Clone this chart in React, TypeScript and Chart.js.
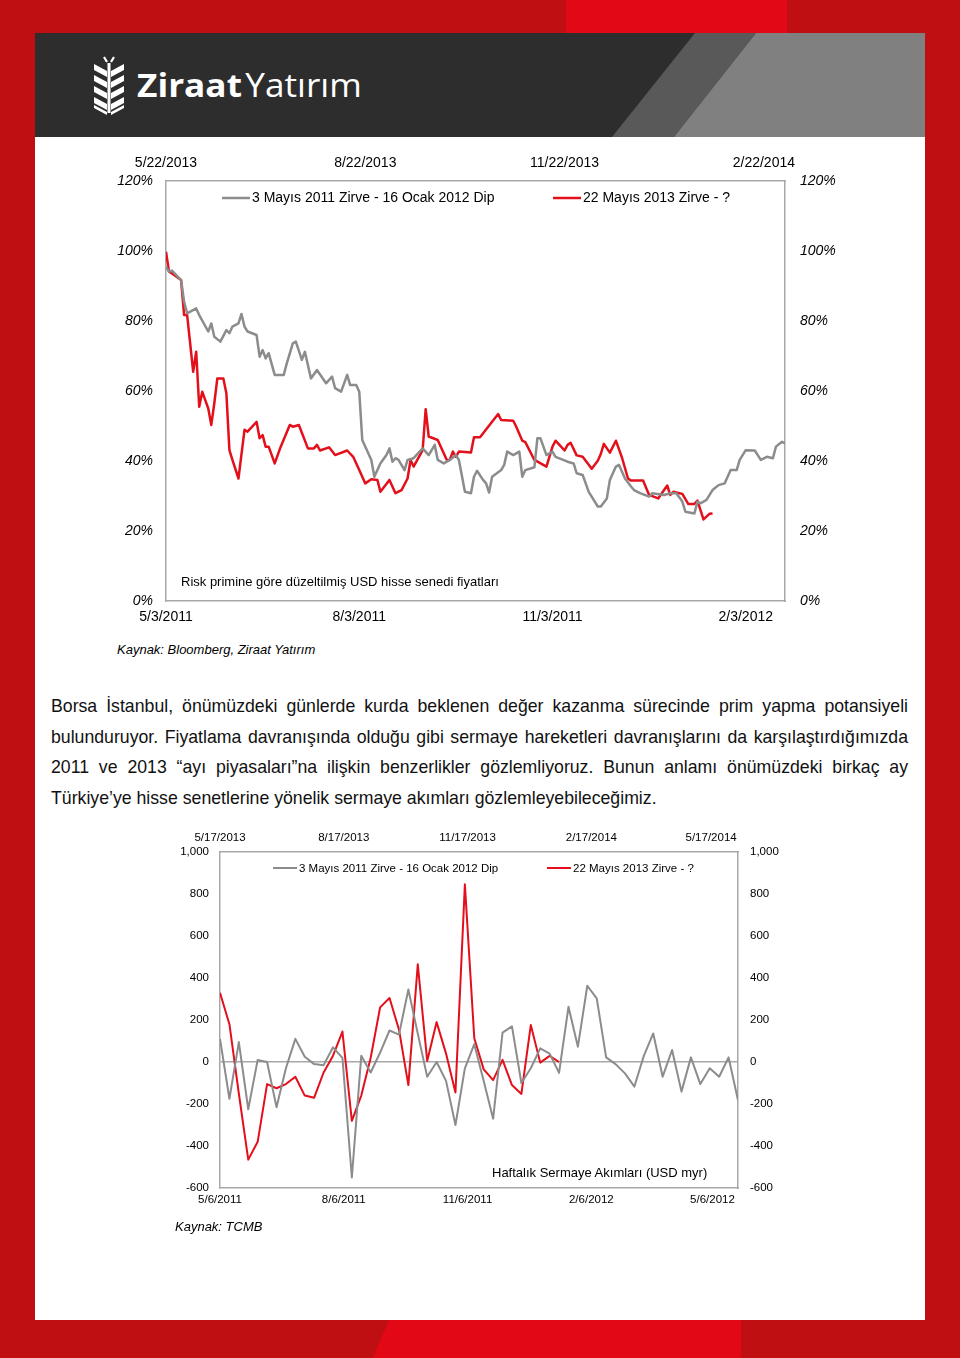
import React, { useEffect, useRef } from 'react';
import { Chart, registerables } from 'chart.js';

Chart.register(...registerables);

const FONT = "'Liberation Sans', Arial, Helvetica, sans-serif";

const seriesLabels = ['3 Mayıs 2011 Zirve - 16 Ocak 2012 Dip', '22 Mayıs 2013 Zirve - ?'];
const grayColor = '#8c8c8c';
const redColor = '#e3101b';
const boxColor = '#a8a8a8';

// ---------- Chart 1: risk-adjusted USD equity prices (trading-day index, % of peak)
const priceGrayDays = [0, 1, 2, 5, 6, 7, 10, 11, 14, 15, 16, 18, 20, 21, 22, 24, 25, 26, 27, 30, 31, 32, 33, 34, 36, 39, 40, 42, 43, 45, 46, 48, 50, 53, 55, 56, 58, 60, 61, 63, 64, 65, 68, 69, 71, 73, 74, 75, 76, 77, 79, 80, 82, 85, 87, 89, 90, 92, 94, 96, 97, 99, 101, 102, 103, 105, 106, 107, 108, 111, 112, 113, 115, 117, 118, 119, 122, 123, 124, 126, 128, 129, 133, 135, 136, 138, 140, 143, 144, 146, 147, 149, 150, 152, 154, 155, 157, 160, 161, 165, 167, 169, 171, 172, 175, 176, 177, 179, 181, 183, 185, 187, 189, 190, 192, 195, 197, 199, 201, 202, 204, 205];
const priceGrayPct = [95.5, 94.1, 94.4, 91.7, 85.5, 82.2, 83.6, 81.7, 77.0, 79.3, 75.5, 74.1, 77.4, 76.5, 78.4, 79.3, 82.0, 78.4, 77.0, 76.0, 69.8, 71.7, 69.3, 70.8, 64.6, 64.6, 67.9, 73.6, 74.1, 68.9, 71.2, 63.6, 66.0, 62.2, 64.1, 60.8, 59.8, 64.6, 61.7, 61.7, 59.8, 46.0, 40.3, 35.5, 39.3, 41.7, 43.6, 39.8, 40.8, 40.3, 37.4, 40.3, 40.8, 43.6, 41.7, 44.6, 40.3, 39.3, 40.3, 41.7, 40.3, 31.2, 30.8, 35.5, 37.2, 34.6, 33.6, 31.0, 35.5, 37.4, 38.9, 42.7, 41.7, 42.7, 35.5, 37.4, 38.2, 46.5, 46.5, 41.7, 42.7, 41.2, 39.8, 39.3, 36.5, 36.0, 31.2, 27.0, 27.0, 29.3, 34.6, 38.4, 38.9, 35.0, 32.7, 31.7, 30.8, 29.8, 30.8, 30.3, 30.8, 30.8, 28.4, 25.5, 25.0, 28.4, 27.9, 28.9, 31.7, 33.1, 33.6, 37.4, 37.4, 40.3, 43.1, 43.0, 40.3, 41.2, 40.8, 44.1, 45.5, 45.0];
const priceRedDays = [0, 1, 2, 5, 6, 7, 8, 9, 10, 11, 12, 13, 14, 15, 16, 17, 19, 20, 21, 22, 24, 26, 27, 30, 31, 32, 33, 34, 36, 38, 41, 42, 44, 47, 49, 50, 51, 54, 56, 60, 62, 64, 66, 68, 70, 71, 74, 76, 78, 80, 81, 82, 85, 86, 87, 90, 91, 93, 94, 95, 96, 97, 101, 102, 104, 106, 110, 111, 115, 116, 118, 119, 122, 126, 128, 129, 130, 132, 133, 134, 136, 138, 141, 143, 144, 145, 147, 149, 151, 153, 154, 158, 160, 163, 166, 167, 168, 170, 171, 173, 175, 176, 178, 180, 181];
const priceRedPct = [99.8, 94.1, 93.6, 91.7, 81.7, 81.7, 73.6, 65.5, 71.2, 55.5, 59.8, 57.4, 55.0, 50.3, 56.5, 63.6, 63.6, 59.3, 43.1, 40.3, 35.0, 48.9, 48.4, 51.2, 46.5, 47.4, 44.1, 44.1, 39.3, 44.1, 50.3, 49.8, 50.3, 43.6, 43.6, 44.6, 43.0, 43.9, 41.7, 43.0, 41.2, 37.4, 33.6, 34.8, 34.6, 31.2, 34.6, 30.8, 31.7, 35.0, 40.3, 38.4, 43.1, 54.8, 47.0, 46.0, 44.1, 40.3, 40.3, 42.7, 41.2, 42.7, 42.4, 46.8, 46.8, 49.0, 53.4, 51.7, 51.5, 49.8, 45.8, 45.4, 40.3, 38.4, 44.1, 45.8, 44.9, 43.0, 44.6, 45.2, 41.6, 41.2, 37.8, 40.1, 42.0, 44.9, 42.4, 45.8, 41.0, 35.0, 34.4, 34.4, 30.3, 29.3, 33.0, 30.3, 31.2, 30.8, 30.6, 27.7, 27.7, 28.7, 23.3, 24.9, 25.0];
const priceBottomTickDays = [0, 64, 128, 192];
const priceBottomTickLabels = ['5/3/2011', '8/3/2011', '11/3/2011', '2/3/2012'];
const priceTopTickDays = [0, 66, 132, 198];
const priceTopTickLabels = ['5/22/2013', '8/22/2013', '11/22/2013', '2/22/2014'];

// ---------- Chart 2: weekly capital flows (USD mn)
const flowGrayWeekly = [110, -175, 95, -225, 10, 0, -215, -30, 110, 25, -10, -15, 70, 20, -550, 30, -50, 45, 150, 130, 345, 135, -70, 0, -90, -300, -30, 85, -90, -270, 140, 170, -100, -30, 65, 40, -52, 263, 73, 363, 303, 22, -10, -54, -117, 29, 136, -70, 57, -141, 22, -105, -30, -70, 22, -182];
const flowRedWeekly = [330, 180, -150, -465, -380, -105, -125, -105, -70, -160, -170, -50, 30, 145, -280, -160, 20, 260, 305, 155, -110, 465, 5, 190, 40, -145, 846, 113, -35, -86, 10, -110, -152, 176, -3, 29, 0];
const flowBottomTickDays = [0, 92, 184, 276, 366];
const flowBottomTickLabels = ['5/6/2011', '8/6/2011', '11/6/2011', '2/6/2012', '5/6/2012'];
const flowTopTickDays = [0, 92, 184, 276, 365];
const flowTopTickLabels = ['5/17/2013', '8/17/2013', '11/17/2013', '2/17/2014', '5/17/2014'];

const paragraph =
  'Borsa İstanbul, önümüzdeki günlerde kurda beklenen değer kazanma sürecinde prim yapma potansiyeli bulunduruyor. Fiyatlama davranışında olduğu gibi sermaye hareketleri davranışlarını da karşılaştırdığımızda 2011 ve 2013 “ayı piyasaları”na ilişkin benzerlikler gözlemliyoruz. Bunun anlamı önümüzdeki birkaç ay Türkiye’ye hisse senetlerine yönelik sermaye akımları gözlemleyebileceğimiz.';

const inlineLegend = {
  id: 'inlineLegend',
  afterDraw(chart: any, _args: any, opts: any) {
    const { ctx, chartArea } = chart;
    ctx.save();
    ctx.font = opts.font;
    ctx.textBaseline = 'middle';
    ctx.textAlign = 'left';
    chart.data.datasets.forEach((ds: any, i: number) => {
      const x = chartArea.left + opts.offsets[i];
      const y = chartArea.top + opts.dy;
      ctx.strokeStyle = ds.borderColor;
      ctx.lineWidth = ds.borderWidth;
      ctx.beginPath();
      ctx.moveTo(x, y);
      ctx.lineTo(x + opts.lineLen, y);
      ctx.stroke();
      ctx.fillStyle = '#000';
      ctx.fillText(ds.label, x + opts.lineLen + opts.gap, y + 0.5);
    });
    ctx.restore();
  },
};

function fixedTicks(days: number[], labels: string[]) {
  return {
    afterBuildTicks: (scale: any) => {
      scale.ticks = days.map((v) => ({ value: v }));
    },
    callback: (v: any) => {
      const i = days.indexOf(Number(v));
      return i >= 0 ? labels[i] : '';
    },
  };
}

function PriceChart() {
  const ref = useRef<HTMLCanvasElement>(null);
  useEffect(() => {
    const tickFont = { family: FONT, size: 14 };
    const yFont = { family: FONT, size: 14, style: 'italic' as const };
    const hiddenGrid = { display: true, color: 'rgba(0,0,0,0)', drawTicks: false };
    const border = { display: true, color: boxColor, width: 1.5 };
    const bottom = fixedTicks(priceBottomTickDays, priceBottomTickLabels);
    const top = fixedTicks(priceTopTickDays, priceTopTickLabels);
    const chart = new Chart(ref.current!, {
      type: 'line',
      data: {
        datasets: [
          {
            label: seriesLabels[0],
            data: priceGrayDays.map((d, i) => ({ x: d, y: priceGrayPct[i] })),
            borderColor: grayColor,
            borderWidth: 2.5,
            pointRadius: 0,
            tension: 0,
            borderJoinStyle: 'round',
            xAxisID: 'x',
            yAxisID: 'y',
          },
          {
            label: seriesLabels[1],
            data: priceRedDays.map((d, i) => ({ x: d, y: priceRedPct[i] })),
            borderColor: redColor,
            borderWidth: 2.5,
            pointRadius: 0,
            tension: 0,
            borderJoinStyle: 'round',
            xAxisID: 'x2',
            yAxisID: 'y',
          },
        ],
      },
      options: {
        responsive: false,
        animation: false,
        events: [],
        layout: { padding: 0 },
        plugins: {
          legend: { display: false },
          tooltip: { enabled: false },
          inlineLegend: { font: `14px ${FONT}`, offsets: [56, 387], dy: 17, lineLen: 28, gap: 2 },
        } as any,
        scales: {
          x: {
            type: 'linear',
            position: 'bottom',
            min: 0,
            max: 205,
            grid: hiddenGrid,
            border,
            afterBuildTicks: bottom.afterBuildTicks,
            afterFit: (s: any) => { s.height = 29; },
            ticks: { callback: bottom.callback, font: tickFont, color: '#000', padding: 8, maxRotation: 0, minRotation: 0, autoSkip: false },
          },
          x2: {
            type: 'linear',
            position: 'top',
            min: 0,
            max: 205,
            grid: hiddenGrid,
            border,
            afterBuildTicks: top.afterBuildTicks,
            afterFit: (s: any) => { s.height = 31; },
            ticks: { callback: top.callback, font: tickFont, color: '#000', padding: 9, maxRotation: 0, minRotation: 0, autoSkip: false },
          },
          y: {
            type: 'linear',
            position: 'left',
            min: 0,
            max: 120,
            grid: hiddenGrid,
            border,
            afterFit: (s: any) => { s.width = 66; },
            ticks: { stepSize: 20, font: yFont, color: '#000', padding: 13, callback: (v: any) => `${v}%` },
          },
          y2: {
            type: 'linear',
            position: 'right',
            min: 0,
            max: 120,
            grid: hiddenGrid,
            border,
            afterFit: (s: any) => { s.width = 55; },
            ticks: { stepSize: 20, font: yFont, color: '#000', padding: 15, callback: (v: any) => `${v}%` },
          },
        },
      } as any,
      plugins: [inlineLegend],
    });
    return () => chart.destroy();
  }, []);
  return <canvas ref={ref} width={740} height={480} style={{ position: 'absolute', left: 100, top: 150, width: 740, height: 480 }} />;
}

function FlowChart() {
  const ref = useRef<HTMLCanvasElement>(null);
  useEffect(() => {
    const tickFont = { family: FONT, size: 11.5 };
    const hiddenGrid = { display: true, color: 'rgba(0,0,0,0)', drawTicks: false };
    const border = { display: true, color: boxColor, width: 1.5 };
    const bottom = fixedTicks(flowBottomTickDays, flowBottomTickLabels);
    const top = fixedTicks(flowTopTickDays, flowTopTickLabels);
    const fmt = (v: any) => Number(v).toLocaleString('en-US');
    const chart = new Chart(ref.current!, {
      type: 'line',
      data: {
        datasets: [
          {
            label: seriesLabels[0],
            data: flowGrayWeekly.map((v, i) => ({ x: i * 7, y: v })),
            borderColor: grayColor,
            borderWidth: 2,
            pointRadius: 0,
            tension: 0,
            borderJoinStyle: 'round',
            xAxisID: 'x',
            yAxisID: 'y',
          },
          {
            label: seriesLabels[1],
            data: flowRedWeekly.map((v, i) => ({ x: i * 7, y: v })),
            borderColor: redColor,
            borderWidth: 2,
            pointRadius: 0,
            tension: 0,
            borderJoinStyle: 'round',
            xAxisID: 'x2',
            yAxisID: 'y',
          },
        ],
      },
      options: {
        responsive: false,
        animation: false,
        events: [],
        layout: { padding: 0 },
        plugins: {
          legend: { display: false },
          tooltip: { enabled: false },
          inlineLegend: { font: `11.5px ${FONT}`, offsets: [53, 327], dy: 16, lineLen: 24, gap: 2 },
        } as any,
        scales: {
          x: {
            type: 'linear',
            position: 'bottom',
            min: 0,
            max: 385,
            grid: hiddenGrid,
            border,
            afterBuildTicks: bottom.afterBuildTicks,
            afterFit: (s: any) => { s.height = 32; },
            ticks: { callback: bottom.callback, font: tickFont, color: '#000', padding: 5, maxRotation: 0, minRotation: 0, autoSkip: false },
          },
          x2: {
            type: 'linear',
            position: 'top',
            min: 0,
            max: 385,
            grid: hiddenGrid,
            border,
            afterBuildTicks: top.afterBuildTicks,
            afterFit: (s: any) => { s.height = 32; },
            ticks: { callback: top.callback, font: tickFont, color: '#000', padding: 7, maxRotation: 0, minRotation: 0, autoSkip: false },
          },
          y: {
            type: 'linear',
            position: 'left',
            min: -600,
            max: 1000,
            grid: {
              display: true,
              drawTicks: false,
              lineWidth: 1.5,
              color: (c: any) => (c.tick && c.tick.value === 0 ? boxColor : 'rgba(0,0,0,0)'),
            },
            border,
            afterFit: (s: any) => { s.width = 70; },
            ticks: { stepSize: 200, font: tickFont, color: '#000', padding: 11, callback: fmt },
          },
          y2: {
            type: 'linear',
            position: 'right',
            min: -600,
            max: 1000,
            grid: hiddenGrid,
            border,
            afterFit: (s: any) => { s.width = 62; },
            ticks: { stepSize: 200, font: tickFont, color: '#000', padding: 12, callback: fmt },
          },
        },
      } as any,
      plugins: [inlineLegend],
    });
    return () => chart.destroy();
  }, []);
  return <canvas ref={ref} width={650} height={400} style={{ position: 'absolute', left: 150, top: 820, width: 650, height: 400 }} />;
}

function Logo() {
  const leaves = [0, 1, 2, 3];
  return (
    <div style={{ position: 'absolute', left: 58, top: 22, height: 60 }}>
      <svg width="32" height="60" viewBox="0 0 32 60" style={{ position: 'absolute', left: 0, top: 0 }}>
        <path d="M11 2 L14 7 M21 2 L18 7" stroke="#fff" strokeWidth="2.2" fill="none" />
        {leaves.map((k) => (
          <g key={k}>
            <polygon points={`1,${9 + k * 11} 14,${16 + k * 11} 14,${22 + k * 11} 1,${15 + k * 11}`} fill="#fff" />
            <polygon points={`31,${9 + k * 11} 18,${16 + k * 11} 18,${22 + k * 11} 31,${15 + k * 11}`} fill="#fff" />
          </g>
        ))}
        <polygon points="1,53 14,60 14,57 1,50" fill="#fff" />
        <polygon points="31,53 18,60 18,57 31,50" fill="#fff" />
        <rect x="14.5" y="8" width="3" height="50" fill="#fff" />
      </svg>
      <div
        style={{
          position: 'absolute',
          left: 44,
          top: 12,
          whiteSpace: 'nowrap',
          color: '#fff',
          fontFamily: "'Open Sans', 'Liberation Sans', Arial, sans-serif",
          fontSize: 32,
          lineHeight: '36px',
          transform: 'scaleX(1.1)',
          transformOrigin: 'left center',
        }}
      >
        <span style={{ fontWeight: 700 }}>Ziraat</span>
        <span style={{ fontWeight: 400, marginLeft: 3 }}>Yatırım</span>
      </div>
    </div>
  );
}

const textStyle = (left: number, centerY: number, size: number, italic = false): React.CSSProperties => ({
  position: 'absolute',
  left,
  top: centerY - size * 0.6,
  fontFamily: FONT,
  fontSize: size,
  lineHeight: `${size * 1.2}px`,
  fontStyle: italic ? 'italic' : 'normal',
  color: '#000',
  whiteSpace: 'nowrap',
});

export default function App() {
  return (
    <div style={{ position: 'absolute', left: 0, top: 0, width: 960, height: 1358, overflow: 'hidden', background: '#bf0f13' }}>
      {/* decorative red blocks */}
      <div style={{ position: 'absolute', left: 566, top: 0, width: 221, height: 33, background: '#e20816' }} />
      <div style={{ position: 'absolute', left: 0, top: 1320, width: 960, height: 38, background: '#e20816', clipPath: 'polygon(389px 0, 741px 0, 741px 38px, 373px 38px)' }} />
      {/* header */}
      <div style={{ position: 'absolute', left: 35, top: 33, width: 890, height: 104, background: '#2d2d2d', overflow: 'hidden' }}>
        <div style={{ position: 'absolute', left: 0, top: 0, width: 890, height: 104, background: '#595959', clipPath: 'polygon(660px 0, 721px 0, 639px 104px, 577px 104px)' }} />
        <div style={{ position: 'absolute', left: 0, top: 0, width: 890, height: 104, background: '#808080', clipPath: 'polygon(721px 0, 890px 0, 890px 104px, 639px 104px)' }} />
        <Logo />
      </div>
      {/* white page */}
      <div style={{ position: 'absolute', left: 35, top: 137, width: 890, height: 1183, background: '#fff' }} />

      <PriceChart />
      <div style={textStyle(181, 582, 13)}>Risk primine göre düzeltilmiş USD hisse senedi fiyatları</div>
      <div style={textStyle(117, 650, 13, true)}>Kaynak: Bloomberg, Ziraat Yatırım</div>

      <div
        style={{
          position: 'absolute',
          left: 51,
          top: 691,
          width: 857,
          fontFamily: FONT,
          fontSize: 17.7,
          lineHeight: '30.7px',
          textAlign: 'justify',
          color: '#111',
        }}
      >
        {paragraph}
      </div>

      <FlowChart />
      <div style={textStyle(492, 1173, 13)}>Haftalık Sermaye Akımları (USD myr)</div>
      <div style={textStyle(175, 1227, 13, true)}>Kaynak: TCMB</div>
    </div>
  );
}
